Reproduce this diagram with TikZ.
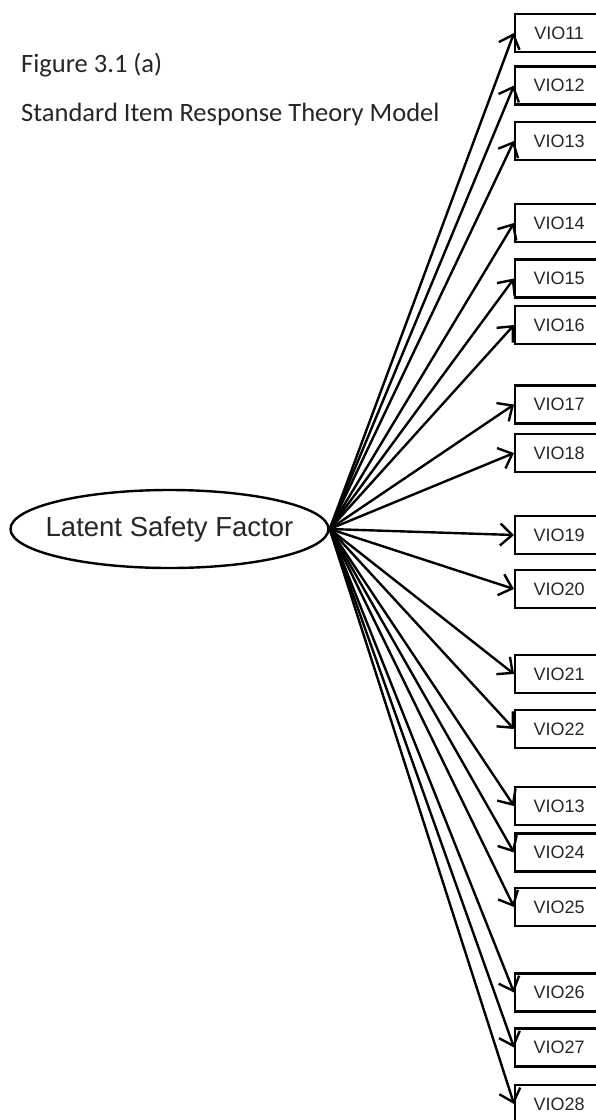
\documentclass[tikz,border=0pt]{standalone}
\usepackage{fontspec}
\setmainfont{Liberation Sans}
\newfontfamily\captionfont{Carlito}
\usetikzlibrary{arrows.meta,shapes.geometric}
\begin{document}
\begin{tikzpicture}[x=1pt,y=-1pt,
  itembox/.style={draw,line width=2.2pt,rectangle,minimum width=88pt,minimum height=38pt,
    inner sep=0pt,anchor=west,font=\fontsize{18}{20}\selectfont,text=black!85},
  factor/.style={draw,line width=2.4pt,ellipse,minimum width=318pt,minimum height=78pt,
    inner sep=0pt},
  factorlabel/.style={font=\fontsize{27.5}{30}\selectfont,text=black!85,inner sep=0pt},
  loading/.style={line width=2.4pt,-{Straight Barb[length=12pt,width=22pt]}},
  heading/.style={anchor=base west,inner sep=0pt,font=\captionfont\fontsize{26.5}{30}\selectfont,text=black!85}]
\useasboundingbox (0,0) rectangle (595,1120);
\fill[white] (0,0) rectangle (595,1120);

\node[heading] (fig) at (21,72) {Figure 3.1 (a)};
\node[heading] (ttl) at (21,121) {Standard Item Response Theory Model};

% latent factor: ellipse outline with its caption set on top
\node[factor] (lsf) at (169.5,529) {};
\node[factorlabel] (lsftext) at (lsf.center) {Latent Safety Factor};

\foreach \n/\yy/\lab in {
  1/33/VIO11, 2/85.5/VIO12, 3/141/VIO13, 4/223/VIO14, 5/278.5/VIO15,
  6/325/VIO16, 7/404.5/VIO17, 8/453/VIO18, 9/535/VIO19, 10/589/VIO20,
  11/674/VIO21, 12/729/VIO22, 13/806/VIO13, 14/852.5/VIO24, 15/907/VIO25,
  16/992.5/VIO26, 17/1047.5/VIO27, 18/1104/VIO28} {
  \node[itembox] (item\n) at (514,\yy) {\lab};
  \draw[loading] (lsf.east) -- (item\n.west);
}
\end{tikzpicture}
\end{document}
